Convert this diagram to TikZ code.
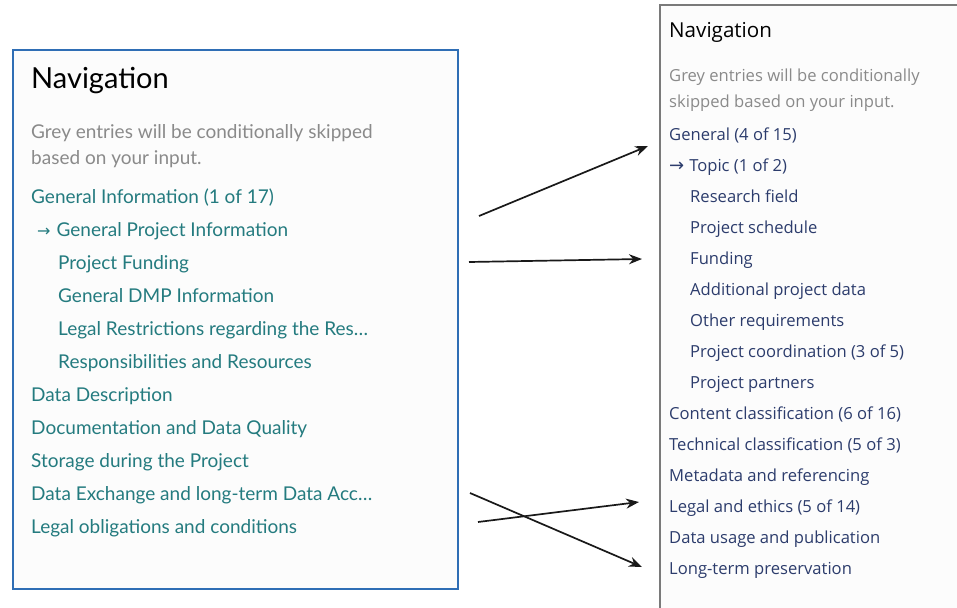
\documentclass[tikz,border=0pt]{standalone}
\usepackage{fontspec}
\newfontfamily\oldnavfont{Lato}
\newfontfamily\newnavfont{Open Sans}
\newfontfamily\arrowfont{DejaVu Sans}
\usetikzlibrary{arrows.meta,positioning}
\definecolor{oldframe}{HTML}{2F6EB5}
\definecolor{oldtext}{HTML}{247B7F}
\definecolor{newframe}{HTML}{7A7A7A}
\definecolor{newtext}{HTML}{2C3C6C}
\definecolor{hinttext}{HTML}{8A8A8A}
\tikzset{
    oldentry/.style={anchor=base west, inner sep=0pt, text=oldtext, font=\oldnavfont\fontsize{19}{22}\selectfont},
    newentry/.style={anchor=base west, inner sep=0pt, text=newtext, font=\newnavfont\fontsize{16.6}{19}\selectfont},
    mapto/.style={-{Stealth[length=13pt,width=10pt]}, line width=1.7pt, black!90}
}

\begin{document}
\begin{tikzpicture}[x=1pt,y=-1pt]
    \useasboundingbox (0,0) rectangle (957,607);
    \clip (0,0) rectangle (957,607);

    % draw the two panels
    \draw[oldframe, line width=2pt, fill=black!1] (13,50) rectangle (458,589);
    \draw[newframe, line width=2pt, fill=black!1] (660,5) rectangle (990,640);

    % old navigation
    \node[oldentry, text=black, font=\oldnavfont\fontsize{29}{32}\selectfont] (oldtitle) at (31,89) {Navigation};
    \node[oldentry, text=hinttext] (oldhint1) at (31,139) {Grey entries will be conditionally skipped};
    \node[oldentry, text=hinttext] (oldhint2) at (31,164) {based on your input.};
    \node[oldentry] (old1) at (31,203) {General Information (1 of 17)};
    \node[oldentry] (old2) at (37,236) {{\arrowfont\fontsize{16}{19}\selectfont →}\hspace{6pt}General Project Information};
    \foreach \y/\t [count=\i from 3] in {269/Project Funding, 302/General DMP Information,
        335/Legal Restrictions regarding the Res…, 368/Responsibilities and Resources}
        \node[oldentry] (old\i) at (58,\y) {\t};
    \foreach \y/\t [count=\i from 7] in {401/Data Description, 434/Documentation and Data Quality,
        467/Storage during the Project, 500/Data Exchange and long-term Data Acc…,
        533/Legal obligations and conditions}
        \node[oldentry] (old\i) at (31,\y) {\t};

    % new navigation
    \node[newentry, text=black, font=\newnavfont\fontsize{20.6}{24}\selectfont] (newtitle) at (669,38) {Navigation};
    \node[newentry, text=hinttext] (newhint1) at (669,82) {Grey entries will be conditionally};
    \node[newentry, text=hinttext] (newhint2) at (669,107) {skipped based on your input.};
    \node[newentry] (new1) at (669,140) {General (4 of 15)};
    \node[newentry] (new2) at (669,171) {{\arrowfont\fontsize{18}{20}\selectfont →}\hspace{5pt}Topic (1 of 2)};
    \foreach \y/\t [count=\i from 3] in {202/Research field, 233/Project schedule, 264/Funding,
        295/Additional project data, 326/Other requirements, 357/Project coordination (3 of 5),
        388/Project partners}
        \node[newentry] (new\i) at (690,\y) {\t};
    \foreach \y/\t [count=\i from 10] in {419/Content classification (6 of 16),
        450/Technical classification (5 of 3), 481/Metadata and referencing,
        512/Legal and ethics (5 of 14), 543/Data usage and publication, 574/Long-term preservation}
        \node[newentry] (new\i) at (669,\y) {\t};

    % arrow ends
    \coordinate (from1) at (479,216);
    \coordinate (to1) at (648,146);
    \coordinate (from2) at (469,262);
    \coordinate (to2) at (642,259);
    \coordinate (from3) at (470,493);
    \coordinate (to3) at (642,567);
    \coordinate (from4) at (478,522);
    \coordinate (to4) at (639,502);

    % draw the mapping arrows
    \foreach \i in {1,...,4}
        \draw[mapto] (from\i) -- (to\i);
\end{tikzpicture}
\end{document}
